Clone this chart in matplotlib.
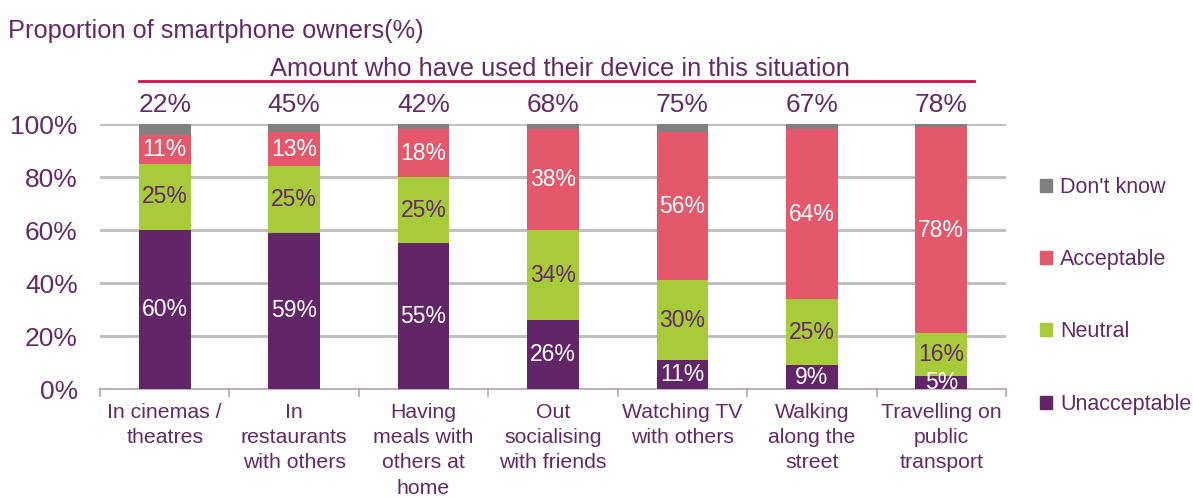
import matplotlib
matplotlib.use("Agg")
import matplotlib.pyplot as plt
from matplotlib.patches import Patch
import numpy as np

plt.rcParams['font.family'] = ['Liberation Sans', 'DejaVu Sans']

categories = ["In cinemas /\ntheatres", "In\nrestaurants\nwith others", "Having\nmeals with\nothers at\nhome",
              "Out\nsocialising\nwith friends", "Watching TV\nwith others", "Walking\nalong the\nstreet",
              "Travelling on\npublic\ntransport"]
unacceptable = [60, 59, 55, 26, 11, 9, 5]
neutral = [25, 25, 25, 34, 30, 25, 16]
acceptable = [11, 13, 18, 38, 56, 64, 78]
dont_know = [4, 3, 2, 2, 3, 2, 1]
used_device = [22, 45, 42, 68, 75, 67, 78]
yticks = [0, 20, 40, 60, 80, 100]

TXT = '#642A66'
C_UN = '#622567'
C_NE = '#A8CB3A'
C_AC = '#E5576A'
C_DK = '#808080'

fig = plt.figure(figsize=(11.93, 4.98), dpi=100)
ax = fig.add_axes([100/1193, 1-389/498, 906/1193, 265/498])

x = np.arange(len(categories))
w = 0.4
un = np.array(unacceptable); ne = np.array(neutral); ac = np.array(acceptable); dk = np.array(dont_know)
ax.bar(x, un, w, color=C_UN, zorder=3)
ax.bar(x, ne, w, bottom=un, color=C_NE, zorder=3)
ax.bar(x, ac, w, bottom=un+ne, color=C_AC, zorder=3)
ax.bar(x, dk, w, bottom=un+ne+ac, color=C_DK, zorder=3)

fs_in = 16.5
for i in range(len(x)):
    ax.text(x[i], un[i]/2, f"{un[i]}%", ha='center', va='center', color='white', fontsize=fs_in, zorder=4, clip_on=True)
    ax.text(x[i], un[i]+ne[i]/2, f"{ne[i]}%", ha='center', va='center', color=TXT, fontsize=fs_in, zorder=4)
    ax.text(x[i], un[i]+ne[i]+ac[i]/2, f"{ac[i]}%", ha='center', va='center', color='white', fontsize=fs_in, zorder=4)
    ax.text(x[i], 107.2, f"{used_device[i]}%", ha='center', va='center', color=TXT, fontsize=19, clip_on=False)

ax.plot([-0.2, 6.25], [116.2, 116.2], color='#D0104C', lw=2, clip_on=False)
ax.text(3.05, 120.6, "Amount who have used their device in this situation", ha='center', va='center',
        color=TXT, fontsize=18.4, clip_on=False)

ax.set_xlim(-0.5, 6.5)
ax.set_ylim(0, 100)
ax.set_yticks(yticks)
ax.set_yticklabels([f"{v}%" for v in yticks], fontsize=19, color=TXT)
ax.tick_params(axis='y', length=0, pad=16)
ax.set_xticks(x)
ax.set_xticklabels(categories, fontsize=15.3, color=TXT, linespacing=1.42)
ax.tick_params(axis='x', length=0, pad=10)
for b in np.arange(-0.5, 7.0, 1.0):
    ax.plot([b, b], [0, -2.5], color='#B0A3B0', lw=1.2, clip_on=False)

for s in ['left', 'right', 'top']:
    ax.spines[s].set_visible(False)
ax.spines['bottom'].set_color('#B0A3B0')
ax.spines['bottom'].set_linewidth(1.2)
for v in yticks[1:]:
    ax.axhline(v, color='#C0C0C0', lw=2.2, zorder=1)

fig.text(8/1193, 1-31/498, "Proportion of smartphone owners(%)", color=TXT, fontsize=18.3, va='center', ha='left')

handles = [Patch(color=C_DK), Patch(color=C_AC), Patch(color=C_NE), Patch(color=C_UN)]
labels = ["Don't know", "Acceptable", "Neutral", "Unacceptable"]
leg = fig.legend(handles, labels, loc='upper left', bbox_to_anchor=(1040/1193, 1-177/498), frameon=False,
                 fontsize=15.5, labelspacing=2.38, handlelength=0.55, handleheight=0.55, handletextpad=0.4,
                 borderaxespad=0, borderpad=0)
for t in leg.get_texts():
    t.set_color(TXT)

fig.savefig("out.png", dpi=100)
